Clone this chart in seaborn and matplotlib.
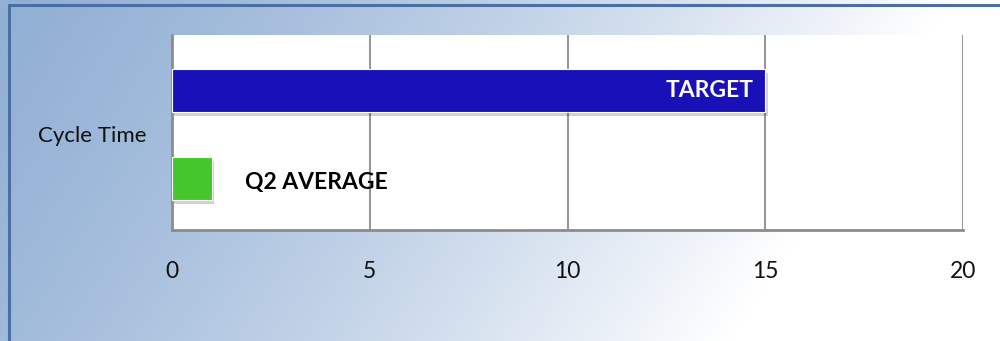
import numpy as np
import pandas as pd
import matplotlib
matplotlib.use("Agg")
import matplotlib.pyplot as plt
import seaborn as sns
from matplotlib.patches import Rectangle
from matplotlib.lines import Line2D

category = "Cycle Time"
series = ["TARGET", "Q2 AVERAGE"]
values = [15, 1]
colors = ["#1a10b8", "#45c62b"]
x_ticks = [0, 5, 10, 15, 20]

sns.set_theme(style="white")
plt.rcParams['font.family'] = ['Lato', 'DejaVu Sans']

W, H = 1000, 341
fig = plt.figure(figsize=(W / 100, H / 100), dpi=100)

# background gradient
bg = fig.add_axes([0, 0, 1, 1])
xx, yy = np.meshgrid(np.linspace(0, 1, 400), np.linspace(0, 1, 140))
t = np.clip((xx * 1.0 + yy * 0.22) / 0.95, 0, 1) ** 1.4
c0 = np.array([146, 176, 213]) / 255.0
c1 = np.array([255, 255, 255]) / 255.0
img = c0[None, None, :] * (1 - t[..., None]) + c1[None, None, :] * t[..., None]
bg.imshow(img, aspect='auto', extent=[0, 1, 0, 1], origin='upper')
bg.set_xlim(0, 1)
bg.set_ylim(0, 1)
bg.axis('off')
bg.add_line(Line2D([9 / W, 9 / W], [0, 1 - 5 / H], color="#4a6fa5", lw=2.2))
bg.add_line(Line2D([9 / W, 1], [1 - 5 / H, 1 - 5 / H], color="#4a6fa5", lw=2.2))

left, right, top, bottom = 172, 963, 35, 230
ax = fig.add_axes([left / W, 1 - bottom / H, (right - left) / W, (bottom - top) / H])
ax.set_facecolor("white")

df = pd.DataFrame({"series": series, "value": values})
sns.barplot(data=df, y="series", x="value", hue="series", palette=colors,
            orient="h", width=0.49, ax=ax, legend=False, zorder=3, saturation=1,
            edgecolor="white", linewidth=0.8)

# subtle drop shadows
for p in ax.patches:
    sh = Rectangle((p.get_x() + 0.06, p.get_y() + 0.05), p.get_width(), p.get_height(),
                   facecolor="#000000", alpha=0.18, zorder=2, edgecolor="none")
    ax.add_patch(sh)

fs = 16.5
ax.set_xlim(0, 20)
ax.set_ylim(1.585, -0.63)
ax.set_xticks(x_ticks)
ax.set_xticklabels([str(v) for v in x_ticks], fontsize=fs, color="#111111")
ax.tick_params(axis='x', length=0, pad=22)
ax.set_yticks([0.5])
ax.set_yticklabels([category], fontsize=16, color="#111111")
ax.tick_params(axis='y', length=0, pad=18)
ax.set_xlabel("")
ax.set_ylabel("")
ax.grid(axis='x', color="#8c8c8c", lw=1.3, zorder=1)
ax.grid(axis='y', visible=False)
for s in ["top", "right"]:
    ax.spines[s].set_visible(False)
for s in ["left", "bottom"]:
    ax.spines[s].set_color("#8c8c8c")
    ax.spines[s].set_linewidth(2)

ax.text(values[0] - 0.3, 0, series[0], ha="right", va="center", color="white",
        fontsize=fs, fontweight="bold", zorder=5)
ax.text(values[1] + 0.85, 1.05, series[1], ha="left", va="center", color="black",
        fontsize=fs, fontweight="bold", zorder=5)

fig.savefig("out.png", dpi=100)
